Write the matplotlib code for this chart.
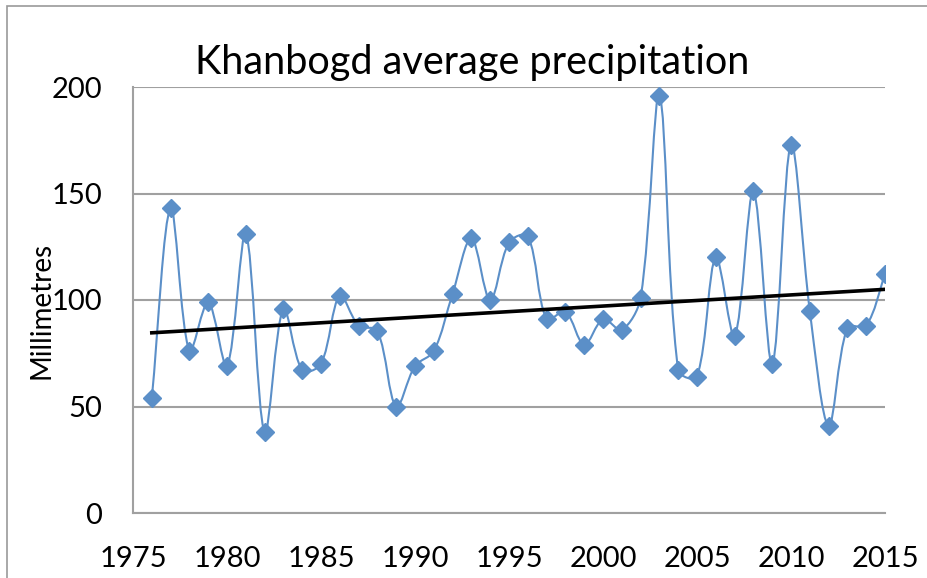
import numpy as np
import matplotlib
matplotlib.use("Agg")
import matplotlib.pyplot as plt
from matplotlib.path import Path
from matplotlib.patches import PathPatch, Rectangle

years = list(range(1976, 2016))
precip = [54, 143, 76, 99, 69, 131, 38, 96, 67, 70,
          102, 88, 85.5, 50, 69, 76, 103, 129, 100, 127,
          130, 91, 94.5, 79, 91, 86, 101, 196, 67, 64,
          120, 83, 151, 70, 173, 95, 41, 87, 88, 112]
title = "Khanbogd average precipitation"
ylabel = "Millimetres"
xticks = [1975, 1980, 1985, 1990, 1995, 2000, 2005, 2010, 2015]
yticks = [0, 50, 100, 150, 200]

plt.rcParams['font.family'] = ['Lato', 'DejaVu Sans']

W, H = 927, 578
fig = plt.figure(figsize=(W / 100, H / 100), dpi=100)
ax = fig.add_axes([133 / W, 1 - 513 / H, (885 - 133) / W, (513 - 87) / H])

blue = '#5B8FC8'
grid = '#A0A0A0'

ax.set_xlim(1975, 2015)
ax.set_ylim(0, 200)

x = np.array(years, dtype=float)
y = np.array(precip, dtype=float)
pts = np.column_stack([x, y])
disp = ax.transData.transform(pts)
n = len(pts)

def d(i, j):
    return float(np.hypot(*(disp[j] - disp[i])))

verts = [pts[0]]
codes = [Path.MOVETO]
for i in range(n - 1):
    a, b = max(i - 1, 0), min(i + 2, n - 1)
    d01, d12, d23 = d(a, i), d(i, i + 1), d(i + 1, b)
    w1 = d12 / (d01 + d12) / 3.0
    w2 = d12 / (d12 + d23) / 3.0
    c1 = pts[i] + (pts[i + 1] - pts[a]) * w1
    c2 = pts[i + 1] - (pts[b] - pts[i]) * w2
    verts += [c1, c2, pts[i + 1]]
    codes += [Path.CURVE4] * 3
ax.add_patch(PathPatch(Path(verts, codes), facecolor='none', edgecolor=blue,
                       lw=1.5, zorder=3))
ax.plot(x, y, linestyle='none', marker='D', markersize=9.5, color=blue,
        markeredgecolor=blue, zorder=4)

coef = np.polyfit(x, y, 1)
ax.plot([x[0], x[-1]], np.polyval(coef, [x[0], x[-1]]), color='black', lw=2.6, zorder=5)

ax.set_xticks(xticks)
ax.set_yticks(yticks)
ax.set_xticklabels([str(t) for t in xticks], fontsize=21)
ax.set_yticklabels([str(t) for t in yticks], fontsize=21)
ax.tick_params(axis='both', length=0)
ax.tick_params(axis='y', pad=22)
ax.tick_params(axis='x', pad=24)
ax.yaxis.grid(True, color=grid, lw=1.5)
ax.set_axisbelow(True)
for s in ['top', 'right']:
    ax.spines[s].set_visible(False)
for s in ['left', 'bottom']:
    ax.spines[s].set_color(grid)
    ax.spines[s].set_linewidth(1.5)

fig.text(472.5 / W, 1 - 74 / H, title, ha='center', va='baseline', fontsize=28.5)
fig.text(50 / W, 1 - 310.5 / H, ylabel, rotation=90, rotation_mode='anchor',
         ha='center', va='baseline', fontsize=20)

fig.patches.append(Rectangle((7 / W, -0.1), 1.2, 1.1 - 6 / H, transform=fig.transFigure,
                             fill=False, edgecolor='#999999', lw=1.2))

fig.savefig('out.png', dpi=100)
